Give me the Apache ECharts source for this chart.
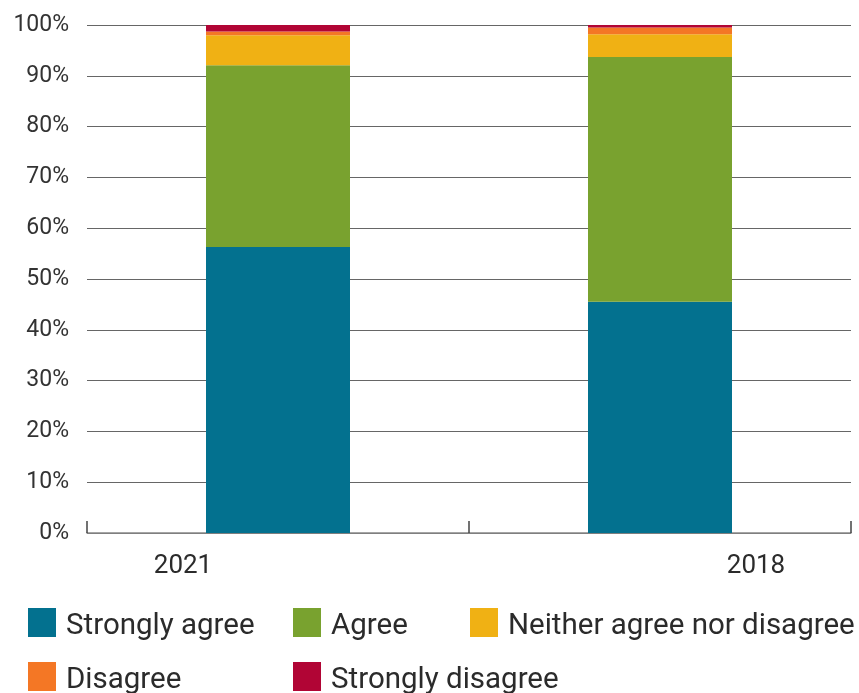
<!DOCTYPE html>
<html>
<head>
<meta charset="utf-8">
<script src="https://cdn.jsdelivr.net/npm/echarts@6/dist/echarts.min.js"></script>
<style>
  html, body { margin: 0; padding: 0; background: #fff; }
  #chart { width: 859px; height: 693px; }
</style>
</head>
<body>
<div id="chart"></div>
<script>
// Survey years and response shares (%)
const years = ['2021', '2018'];
const stronglyAgree = [56.3, 45.5];
const agree = [35.8, 48.2];
const neither = [5.9, 4.5];
const disagree = [0.7, 1.3];
const stronglyDisagree = [1.3, 0.5];

const seriesNames = ['Strongly agree', 'Agree', 'Neither agree nor disagree', 'Disagree', 'Strongly disagree'];
const seriesValues = [stronglyAgree, agree, neither, disagree, stronglyDisagree];
const colors = ['#03718f', '#79a22f', '#f0b114', '#f47725', '#b10535'];

const FONT = 'Roboto, "Noto Sans", sans-serif';

const chart = echarts.init(document.getElementById('chart'));

// one single-item legend per entry so the items sit on a fixed column grid
const legendSlots = [
  { left: 28, top: 608 },
  { left: 293, top: 608 },
  { left: 470, top: 608 },
  { left: 28, top: 662 },
  { left: 293, top: 662 }
];

chart.setOption({
  animation: false,
  color: colors,
  grid: { left: 87, right: 8, top: 25, bottom: 160 },
  legend: legendSlots.map((s, i) => ({
    data: [seriesNames[i]],
    left: s.left,
    top: s.top,
    padding: 0,
    itemWidth: 28,
    itemHeight: 29,
    itemGap: 0,
    icon: 'rect',
    selectedMode: false,
    formatter: '{t|{name}}',
    textStyle: {
      fontFamily: FONT,
      fontSize: 29.5,
      color: '#2b2b2b',
      rich: { t: { fontFamily: FONT, fontSize: 29.5, color: '#2b2b2b', padding: [8, 0, 0, 5] } }
    }
  })),
  xAxis: {
    type: 'category',
    data: years,
    axisLine: { lineStyle: { color: '#888', width: 1.5 } },
    axisTick: { show: true, inside: true, length: 12, lineStyle: { color: '#444', width: 1.5 } },
    axisLabel: {
      margin: 20,
      formatter: function (v) { return v === '2021' ? '{a|' + v + '}' : '{b|' + v + '}'; },
      rich: {
        a: { fontFamily: FONT, fontSize: 26, color: '#2b2b2b', padding: [0, 190, 0, 0] },
        b: { fontFamily: FONT, fontSize: 26, color: '#2b2b2b', padding: [0, 0, 0, 192] }
      }
    }
  },
  yAxis: {
    type: 'value',
    min: 0,
    max: 100,
    interval: 10,
    axisLine: { show: false },
    axisTick: { show: false },
    splitLine: { lineStyle: { color: '#666', width: 1.2 } },
    axisLabel: {
      margin: 18,
      formatter: '{value}%',
      fontFamily: FONT,
      fontSize: 23,
      color: '#333'
    }
  },
  series: seriesNames.map((name, i) => ({
    name: name,
    type: 'bar',
    stack: 'total',
    barWidth: 144,
    data: seriesValues[i]
  }))
});
</script>
</body>
</html>
